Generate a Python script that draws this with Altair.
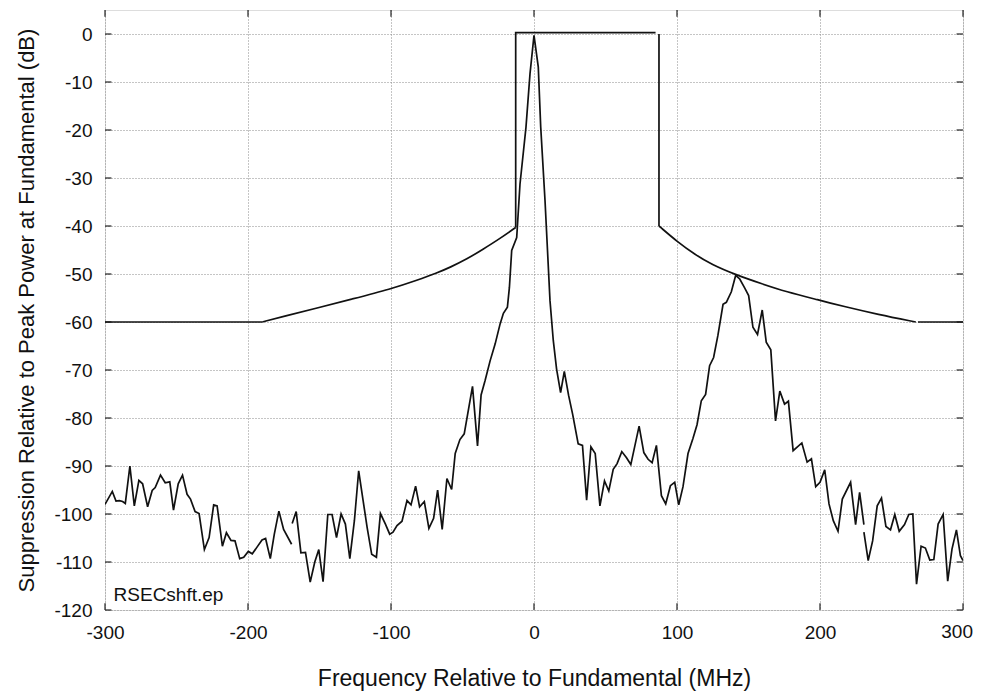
import altair as alt
import pandas as pd

# ---------------- measured trace (three connected pieces) ----------------
trace1_freq = [-300.0, -294.9, -292.3, -290.0, -287.7, -285.8, -282.6, -279.5, -276.3, -273.7,
               -270.2, -267.0, -264.9, -261.2, -257.9, -254.7, -252.1, -248.8, -245.8, -242.6,
               -240.2, -237.0, -234.2, -230.5, -227.2, -224.0, -221.6, -217.9, -215.1, -211.9,
               -209.1, -205.8, -203.0, -199.8, -197.0, -193.7, -190.2, -187.7, -184.4, -181.6,
               -178.4, -175.1, -169.5]
trace1_db = [-98.0, -95.3, -97.3, -97.2, -97.4, -97.8, -90.0, -98.3, -93.0, -93.7,
             -98.5, -95.1, -94.5, -91.9, -93.5, -93.3, -99.2, -93.7, -91.9, -95.9,
             -96.9, -99.5, -99.9, -107.4, -104.9, -98.1, -98.3, -106.7, -103.9, -105.5,
             -105.6, -109.3, -109.0, -107.8, -108.3, -106.9, -105.4, -105.1, -109.3, -104.2,
             -99.4, -103.2, -106.3]

trace2_freq = [-169.1, -166.3, -163.0, -159.8, -156.5, -153.3, -150.5, -147.5, -144.2, -141.2,
               -138.1, -134.9, -131.9, -128.8, -125.6, -122.6, -119.5, -116.7, -113.5, -110.2,
               -107.4, -103.9, -100.9, -98.6, -95.8, -92.3, -88.8, -86.0, -82.8, -80.0,
               -76.7, -73.5, -70.2, -67.4, -64.2, -60.9, -57.6, -55.1, -51.8, -48.8,
               -43.0, -39.5, -37.0, -34.2, -30.7, -27.2, -23.7, -21.4, -18.6, -17.2,
               -15.6, -12.1, -9.8, -5.6, -2.8, 0.0, 3.0, 4.7, 7.7, 11.2,
               13.5, 15.8, 18.6, 21.2, 24.2, 27.0, 30.9, 33.9, 36.8, 39.8,
               42.8, 46.1, 49.3, 52.3, 55.4, 58.1, 61.4, 64.7, 67.7, 73.5,
               76.8, 79.8, 82.6, 85.6, 89.1, 92.1, 95.4, 98.4, 101.2, 104.2,
               107.7, 111.2, 114.0, 117.0, 120.0, 122.8, 125.6, 128.6, 132.2, 134.5,
               138.0, 141.0, 143.8, 147.3, 150.1, 153.1, 156.3, 159.6, 162.4, 165.6,
               168.9, 171.9, 175.2, 177.9, 181.2, 187.3, 191.0, 194.0, 197.0, 200.0,
               203.3, 206.3, 209.3, 212.6, 215.6, 221.4, 224.9, 227.7, 230.7]
trace2_db = [-102.0, -99.5, -108.1, -108.0, -114.2, -110.0, -107.4, -114.1, -100.1, -100.1,
             -104.9, -100.0, -102.1, -109.3, -101.4, -91.0, -97.2, -102.8, -108.4, -109.0,
             -99.9, -102.1, -104.2, -103.8, -102.4, -101.5, -97.2, -98.1, -94.2, -98.5,
             -97.4, -103.0, -100.9, -95.0, -103.2, -92.6, -94.9, -87.4, -84.5, -83.3,
             -73.4, -85.8, -75.2, -72.2, -68.1, -64.6, -60.4, -58.2, -56.9, -52.8,
             -45.1, -42.4, -31.3, -19.4, -8.3, -0.3, -6.9, -19.4, -34.7, -55.6,
             -63.9, -69.8, -74.7, -70.3, -75.3, -79.2, -85.4, -85.7, -97.1, -86.0,
             -87.4, -98.3, -93.1, -95.2, -90.7, -89.5, -87.0, -88.3, -89.7, -81.7,
             -87.2, -88.6, -89.3, -85.7, -96.2, -97.9, -94.1, -93.4, -98.1, -94.3,
             -87.4, -84.2, -81.4, -76.4, -75.1, -69.1, -67.4, -62.8, -56.3, -55.9,
             -53.7, -50.3, -51.0, -52.9, -54.5, -61.1, -62.6, -57.5, -64.2, -65.8,
             -80.6, -74.4, -77.1, -76.5, -86.8, -85.2, -89.2, -88.5, -94.3, -93.4,
             -90.8, -97.9, -101.4, -103.6, -96.9, -93.4, -102.2, -95.5, -102.2]

trace3_freq = [230.7, 233.7, 236.8, 240.0, 243.0, 246.1, 249.3, 252.3, 255.4, 259.1,
               262.1, 264.9, 267.5, 270.7, 273.7, 276.8, 279.6, 282.6, 286.1, 289.3,
               292.3, 295.4, 298.2, 300.0]
trace3_db = [-103.8, -109.7, -105.6, -98.3, -96.7, -102.6, -103.3, -100.1, -103.6, -102.2,
             -100.1, -100.0, -114.6, -106.7, -107.1, -109.6, -109.5, -102.1, -100.1, -114.0,
             -107.3, -103.3, -108.7, -109.7]

# ---------------- spectral mask ----------------
mask_left_curve_freq = [-190.0, -174.9, -151.7, -128.4, -99.8, -81.9, -67.9, -58.6, -47.0, -35.4, -23.7, -12.8]
mask_left_curve_db = [-60.0, -58.8, -57.1, -55.3, -53.1, -51.3, -49.8, -48.6, -46.9, -44.8, -42.6, -40.3]
mask_right_curve_freq = [87.4, 100.7, 112.4, 124.0, 141.4, 158.9, 176.3, 198.9, 217.0, 240.3, 267.0]
mask_right_curve_db = [-40.0, -43.4, -45.9, -48.0, -50.2, -52.0, -53.7, -55.4, -56.8, -58.4, -60.0]
mask_flat_left_freq = [-300.0, -190.0]
mask_flat_left_db = [-60.0, -60.0]
mask_pass_freq = [-12.8, -12.8, 85.0]
mask_pass_db = [-40.3, 0.3, 0.3]
mask_edge_right_freq = [87.4, 87.4]
mask_edge_right_db = [0.0, -40.0]
mask_flat_right_freq = [268.5, 300.0]
mask_flat_right_db = [-60.0, -60.0]

x_ticks = [-300, -200, -100, 0, 100, 200, 300]
y_ticks = [0, -10, -20, -30, -40, -50, -60, -70, -80, -90, -100, -110, -120]
tag_text = "RSECshft.ep"


def frame(pieces):
    rows = []
    for sid, (fs, ds) in enumerate(pieces):
        for i, (f, d) in enumerate(zip(fs, ds)):
            rows.append({"seg": sid, "i": i, "f": f, "db": d})
    return pd.DataFrame(rows)


trace_df = frame([(trace1_freq, trace1_db), (trace2_freq, trace2_db), (trace3_freq, trace3_db)])
curve_df = frame([(mask_left_curve_freq, mask_left_curve_db), (mask_right_curve_freq, mask_right_curve_db)])
straight_df = frame([(mask_flat_left_freq, mask_flat_left_db), (mask_pass_freq, mask_pass_db),
                     (mask_edge_right_freq, mask_edge_right_db), (mask_flat_right_freq, mask_flat_right_db)])

FONT = "Liberation Sans"
xscale = alt.Scale(domain=[-300, 300], nice=False, zero=False)
yscale = alt.Scale(domain=[-120, 5], nice=False, zero=False)

# the last x label is drawn by a text layer so it stays inside the page
xaxis = alt.Axis(values=x_ticks, labelExpr="datum.value == 300 ? '' : '' + datum.value",
                 ticks=False, domain=False,
                 grid=True, gridDash=[1, 2], gridColor="#8a8a8a", gridWidth=1,
                 labelFont=FONT, labelFontSize=19, labelColor="#111", labelPadding=13,
                 labelFlush=False, labelOverlap=False,
                 title="Frequency Relative to Fundamental (MHz)", titleFont=FONT,
                 titleFontSize=23, titleFontWeight="normal", titleColor="#111", titlePadding=25)
yaxis = alt.Axis(values=y_ticks, labelExpr="'' + datum.value", ticks=False, domain=False,
                 grid=True, gridDash=[1, 2], gridColor="#8a8a8a", gridWidth=1,
                 labelFont=FONT, labelFontSize=19, labelColor="#111", labelPadding=13,
                 labelFlush=False, labelOverlap=False,
                 title="Suppression Relative to Peak Power at Fundamental (dB)", titleFont=FONT,
                 titleFontSize=22, titleFontWeight="normal", titleColor="#111", titlePadding=15)


def X(field="f"):
    return alt.X(f"{field}:Q", scale=xscale, axis=xaxis)


def Y(field="db"):
    return alt.Y(f"{field}:Q", scale=yscale, axis=yaxis)


trace = alt.Chart(trace_df).mark_line(color="#111", strokeWidth=1.7, clip=True).encode(
    x=X(), y=Y(), detail="seg:N", order="i:Q")
curves = alt.Chart(curve_df).mark_line(color="#111", strokeWidth=1.7, interpolate="basis", clip=True).encode(
    x=X(), y=Y(), detail="seg:N", order="i:Q")
straights = alt.Chart(straight_df).mark_line(color="#111", strokeWidth=1.7, clip=True).encode(
    x=X(), y=Y(), detail="seg:N", order="i:Q")

# inward tick marks on all four sides
xt = pd.DataFrame({"f": x_ticks})
yt = pd.DataFrame({"db": y_ticks})
tick_bottom = alt.Chart(xt).mark_rule(color="#222", strokeWidth=1.2).encode(
    x=X(), y=alt.datum(-120, scale=yscale), y2=alt.datum(-118.6))
tick_top = alt.Chart(xt).mark_rule(color="#222", strokeWidth=1.2).encode(
    x=X(), y=alt.datum(5), y2=alt.datum(3.6))
tick_left = alt.Chart(yt).mark_rule(color="#222", strokeWidth=1.2).encode(
    y=Y(), x=alt.datum(-300), x2=alt.datum(-295.5))
tick_right = alt.Chart(yt).mark_rule(color="#222", strokeWidth=1.2).encode(
    y=Y(), x=alt.datum(300), x2=alt.datum(295.5))

last_label = alt.Chart(pd.DataFrame({"f": [x_ticks[-1]], "t": [str(x_ticks[-1])]})).mark_text(
    align="right", baseline="top", font=FONT, fontSize=19, color="#111", dx=10, dy=13).encode(
    x=X(), y=alt.datum(-120), text="t:N")

tag = alt.Chart(pd.DataFrame({"f": [-294.0], "db": [-116.8], "t": [tag_text]})).mark_text(
    align="left", baseline="middle", font=FONT, fontSize=19, color="#111").encode(
    x=X(), y=Y(), text="t:N")

chart = alt.layer(tick_bottom, tick_top, tick_left, tick_right, straights, curves, trace, tag,
                  last_label).properties(
    width=858, height=600,
    autosize=alt.AutoSizeParams(type="none"),
    padding={"left": 97, "top": 2, "right": 11, "bottom": 90},
).configure_view(stroke="#222", strokeWidth=1.5).configure(background="white")

chart.save("out.html", embed_options={"renderer": "svg", "actions": False})
